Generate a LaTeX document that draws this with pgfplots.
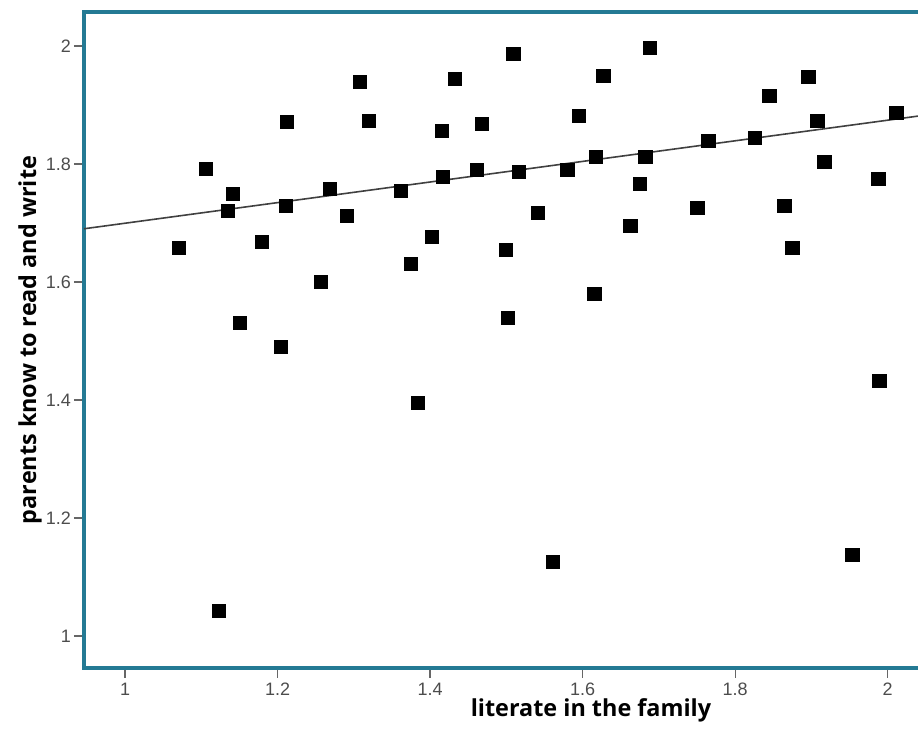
\documentclass[border=0pt]{standalone}
\usepackage{fontspec}
\setmainfont{Liberation Sans}
\newfontfamily\labfont{Open Sans}
\usepackage{pgfplots}
\pgfplotsset{compat=1.18}
\definecolor{frame}{RGB}{36,122,148}
\begin{document}
\begin{tikzpicture}
\clip (-42pt,-40pt) rectangle (417pt,334pt);
\begin{axis}[
  scale only axis,
  width=424.7pt, height=328pt,
  xmin=0.94623, xmax=2.06,
  ymin=0.94576, ymax=2.05763,
  xtick={1,1.2,...,2.01}, ytick={1,1.2,...,2.01},
  xticklabels={1,1.2,1.4,1.6,1.8,2},
  yticklabels={1,1.2,1.4,1.6,1.8,2},
  axis line style={draw=frame, line width=1.6pt},
  tick align=outside, major tick length=5pt,
  tick style={draw=black!60, line width=0.6pt},
  xtick pos=bottom, ytick pos=left,
  /pgf/number format/assume math mode=true,
  tick label style={font=\fontsize{9}{10}\selectfont, text=black!70},
  xticklabel style={yshift=1pt},
  yticklabel style={xshift=2pt},
  xlabel={\labfont\bfseries\fontsize{11.7}{13}\selectfont literate in the family},
  ylabel={\labfont\bfseries\fontsize{11.7}{13}\selectfont parents know to read and write},
  every axis x label/.style={at={(253.5pt,-21pt)}, anchor=center},
  every axis y label/.style={at={(-27pt,164pt)}, anchor=center, rotate=90},
  clip=true,
]
\addplot[only marks, mark=square*, mark size=3.4pt, mark options={fill=black, draw=none}] coordinates {
(1.0708,1.6576) (1.1062,1.7915) (1.1351,1.7203) (1.1416,1.7492) (1.1508,1.5305)
(1.1233,1.0424) (1.1797,1.6678) (1.2125,1.8712) (1.2111,1.7288) (1.2046,1.4898)
(1.2570,1.6000) (1.2689,1.7576) (1.2911,1.7119) (1.3082,1.9390) (1.3200,1.8729)
(1.3620,1.7542) (1.3751,1.6305) (1.3843,1.3949) (1.4026,1.6763) (1.4157,1.8559)
(1.4170,1.7780) (1.4328,1.9441) (1.4616,1.7898) (1.4682,1.8678) (1.4997,1.6542)
(1.5023,1.5390) (1.5089,1.9864) (1.5167,1.7864) (1.5416,1.7169) (1.5613,1.1254)
(1.5797,1.7898) (1.5954,1.8814) (1.6151,1.5797) (1.6177,1.8119) (1.6269,1.9492)
(1.6623,1.6949) (1.6754,1.7661) (1.6820,1.8119) (1.6885,1.9966) (1.7502,1.7254)
(1.7646,1.8390) (1.8262,1.8441) (1.8446,1.9153) (1.8643,1.7288) (1.8748,1.6576)
(1.8957,1.9475) (1.9075,1.8729) (1.9167,1.8034) (1.9534,1.1373) (1.9875,1.7746)
(1.9889,1.4322) (2.0111,1.8864)
};
\addplot[black!75, line width=0.8pt] coordinates {(0.94623,1.6902) (2.06,1.8847)};
\end{axis}
\end{tikzpicture}
\end{document}
